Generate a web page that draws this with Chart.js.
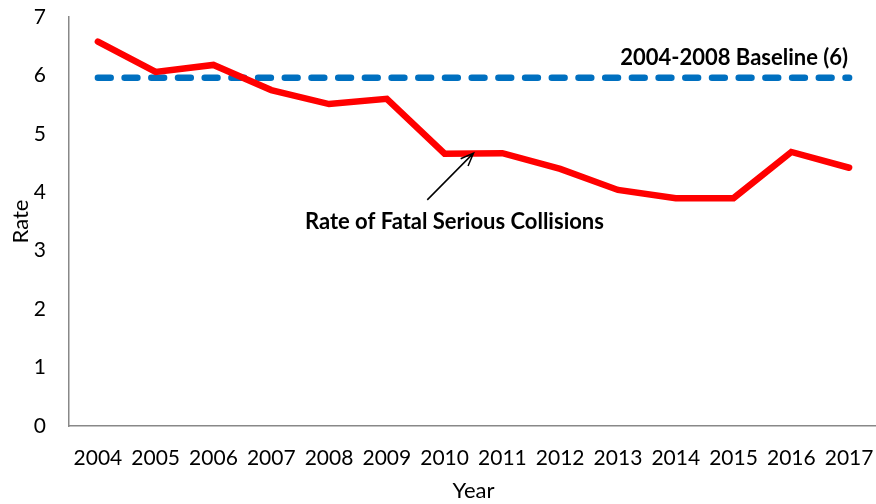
<!DOCTYPE html>
<html>
<head>
<meta charset="utf-8">
<script src="https://cdn.jsdelivr.net/npm/chart.js@4.4.1/dist/chart.umd.min.js"></script>
<style>
html,body{margin:0;padding:0;background:#fff;overflow:hidden;}
#wrap{width:876px;height:504px;overflow:hidden;position:relative;}
canvas{display:block;}
</style>
</head>
<body>
<div id="wrap"><canvas id="c" width="880" height="504"></canvas></div>
<script>
const years = ['2004','2005','2006','2007','2008','2009','2010','2011','2012','2013','2014','2015','2016','2017'];
const rateValues = [6.58, 6.06, 6.18, 5.75, 5.51, 5.60, 4.66, 4.67, 4.40, 4.04, 3.90, 3.90, 4.69, 4.42];
const baselineValue = 5.96;
const baselineValues = years.map(() => baselineValue);
const yTicks = [0,1,2,3,4,5,6,7];
const rateLabel = 'Rate of Fatal Serious Collisions';
const baselineLabel = '2004-2008 Baseline (6)';

const FONT = 'Lato, "Open Sans", sans-serif';

const annotations = {
  id: 'annotations',
  afterDatasetsDraw(chart) {
    const ctx = chart.ctx;
    const x = chart.scales.x, y = chart.scales.y;
    ctx.save();
    ctx.fillStyle = '#000';
    ctx.font = 'bold 22px ' + FONT;
    ctx.textBaseline = 'middle';
    ctx.textAlign = 'right';
    ctx.fillText(baselineLabel, x.getPixelForValue(13) - 1, y.getPixelForValue(6.3));
    ctx.textAlign = 'center';
    ctx.fillText(rateLabel, x.getPixelForValue(6.17), y.getPixelForValue(3.49));
    const x1 = x.getPixelForValue(5.7), y1 = y.getPixelForValue(3.87);
    const x2 = x.getPixelForValue(6.5), y2 = y.getPixelForValue(4.67);
    ctx.strokeStyle = '#000';
    ctx.lineWidth = 1.5;
    ctx.beginPath();
    ctx.moveTo(x1, y1);
    ctx.lineTo(x2, y2);
    const ang = Math.atan2(y2 - y1, x2 - x1);
    const L = 14, A = 0.38;
    ctx.moveTo(x2 - L * Math.cos(ang - A), y2 - L * Math.sin(ang - A));
    ctx.lineTo(x2, y2);
    ctx.lineTo(x2 - L * Math.cos(ang + A), y2 - L * Math.sin(ang + A));
    ctx.stroke();
    ctx.restore();
  }
};

new Chart(document.getElementById('c'), {
  type: 'line',
  data: {
    labels: years,
    datasets: [
      {
        label: rateLabel,
        data: rateValues,
        borderColor: '#FF0000',
        borderWidth: 6.5,
        borderCapStyle: 'round',
        borderJoinStyle: 'miter',
        pointRadius: 0,
        tension: 0,
        fill: false,
        order: 0
      },
      {
        label: baselineLabel,
        data: baselineValues,
        borderColor: '#0070C0',
        borderWidth: 6.5,
        borderDash: [12.8, 13.9],
        borderCapStyle: 'round',
        pointRadius: 0,
        tension: 0,
        fill: false,
        order: 1
      }
    ]
  },
  options: {
    responsive: false,
    animation: false,
    devicePixelRatio: 1,
    layout: { padding: { top: 17, right: 2, left: 0, bottom: 0 } },
    plugins: { legend: { display: false }, tooltip: { enabled: false } },
    scales: {
      x: {
        type: 'category',
        offset: true,
        grid: { display: false, drawTicks: false },
        border: { display: true, color: '#888888', width: 1.5 },
        ticks: { color: '#000', font: { family: FONT, size: 21 }, padding: 20, maxRotation: 0, autoSkip: false },
        title: { display: true, text: 'Year', color: '#000', font: { family: FONT, size: 22 }, padding: { top: 4, bottom: 0 } },
        afterFit(s) { s.height = 78; s.paddingLeft = 0; s.paddingRight = 0; }
      },
      y: {
        min: 0, max: 7,
        afterBuildTicks(s) { s.ticks = yTicks.map(v => ({ value: v })); },
        grid: { display: false, drawTicks: false },
        border: { display: true, color: '#888888', width: 1.5 },
        ticks: { color: '#000', font: { family: FONT, size: 21 }, padding: 23 },
        title: { display: true, text: 'Rate', color: '#000', font: { family: FONT, size: 22 }, padding: { top: 8, bottom: 0 } },
        afterFit(s) { s.width = 69; s.paddingTop = 0; s.paddingBottom = 0; }
      }
    }
  },
  plugins: [annotations]
});
</script>
</body>
</html>
